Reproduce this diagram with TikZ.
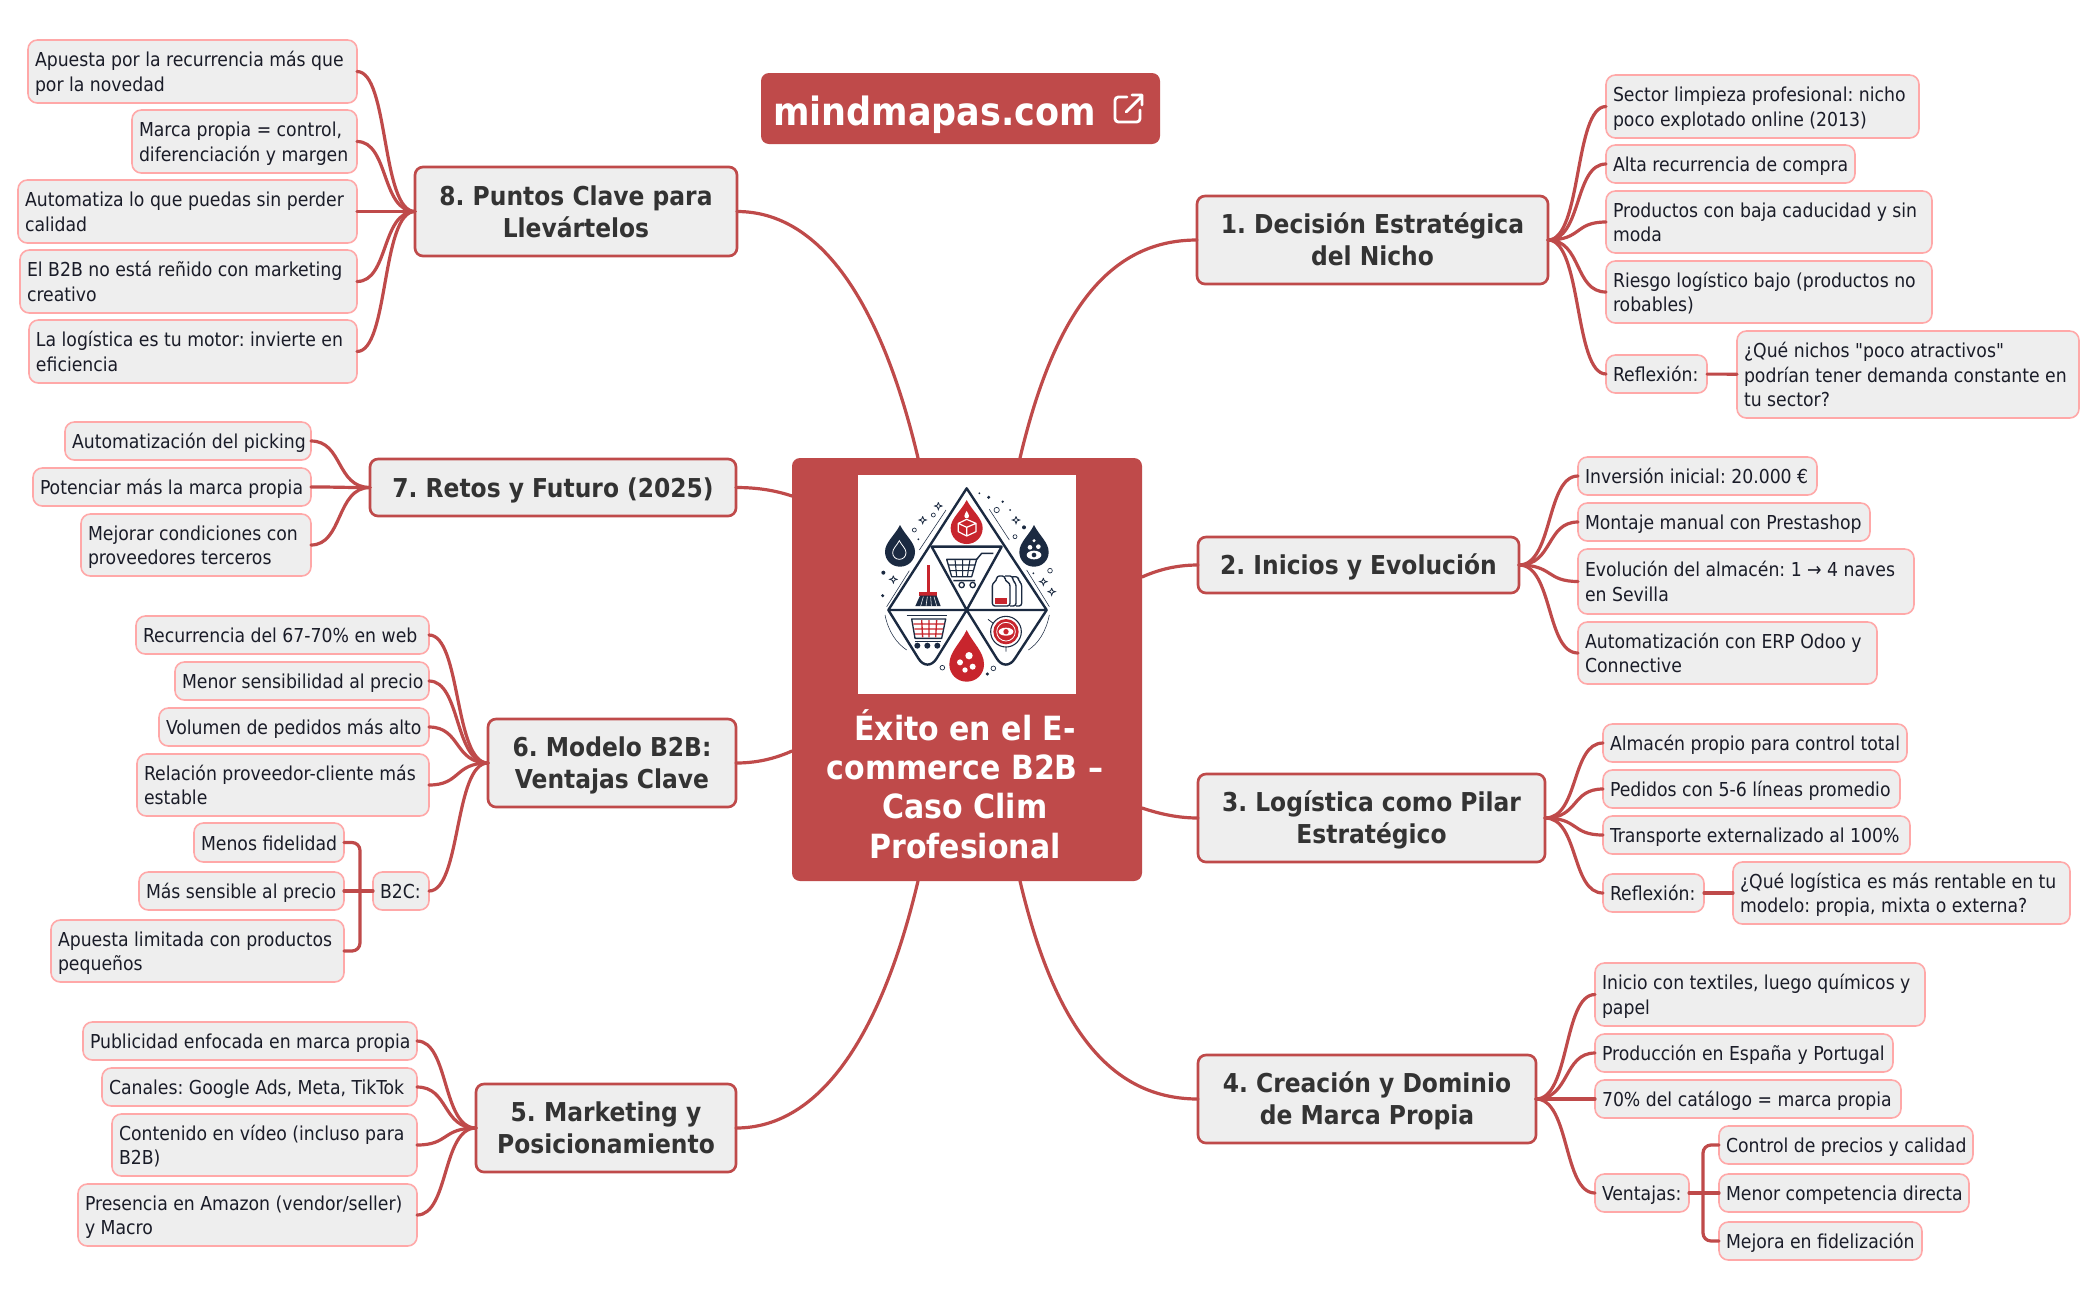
\documentclass[tikz,border=0pt]{standalone}
\usepackage{fontspec}
\newfontfamily\uifont{DejaVu Sans Condensed}
\definecolor{brand}{HTML}{BF4A4A}
\definecolor{lfill}{HTML}{EEEEEE}
\definecolor{lline}{HTML}{FFA8A8}
\definecolor{ltext}{HTML}{1A1C28}
\definecolor{mtext}{HTML}{333333}
\definecolor{navy}{HTML}{1B2A41}
\definecolor{logored}{HTML}{C8252D}
\tikzset{
  leafbox/.style={draw=lline,fill=lfill,line width=1.2pt,rounded corners=7pt,inner sep=0pt,outer sep=0pt,text=ltext,font=\uifont\frenchspacing\fontsize{14.4}{18.3}\selectfont},
  mainbox/.style={draw=brand,fill=lfill,line width=2pt,rounded corners=6pt,inner sep=0pt,outer sep=0pt,text=mtext,font=\uifont\frenchspacing\fontsize{19.5}{24}\selectfont\bfseries},
  conn/.style={draw=brand,line width=2.4pt,line cap=round},
  logoline/.style={draw=navy,line width=1.8pt,line join=round},
  thinline/.style={draw=navy,line width=0.4pt},
}
\newcommand\leafn[6]{%
  \pgfmathsetlengthmacro\mytw{(#4-#2-14)*0.75pt}%
  \pgfmathsetlengthmacro\mymw{(#4-#2)*0.75pt}%
  \pgfmathsetlengthmacro\mymh{(#5-#3)*0.75pt}%
  \node[leafbox,minimum width=\mymw,minimum height=\mymh] (#1) at ({(#2+#4)/2},{(#3+#5)/2}) {\vbox{\kern4pt\hbox to \mytw{\begin{tabular}{@{}l@{}}#6\end{tabular}\hss}}};}
\newcommand\mainn[6]{%
  \pgfmathsetlengthmacro\mymw{(#4-#2)*0.75pt}%
  \pgfmathsetlengthmacro\mymh{(#5-#3)*0.75pt}%
  \node[mainbox,minimum width=\mymw,minimum height=\mymh] (#1) at ({(#2+#4)/2},{(#3+#5)/2}) {\vbox{\kern5pt\hbox{\begin{tabular}{@{}c@{}}#6\end{tabular}}}};}
% connector leaving horizontally on both ends
\newcommand\cR[2]{\draw[conn] (#1.east) .. controls +(34,0) and +(-32,0) .. (#2.west);}
\newcommand\cL[2]{\draw[conn] (#1.west) .. controls +(-34,0) and +(32,0) .. (#2.east);}
% drop: cx, tip y, bottom y, half width
\newcommand\dropshape[4]{%
  (#1,#2) .. controls ({#1+0.35*#4},{#2+0.25*(#3-#2)}) and ({#1+#4},{#2+0.42*(#3-#2)}) .. ({#1+#4},{#3-#4})
  .. controls ({#1+#4},{#3-0.42*#4}) and ({#1+0.55*#4},#3) .. (#1,#3)
  .. controls ({#1-0.55*#4},#3) and ({#1-#4},{#3-0.42*#4}) .. ({#1-#4},{#3-#4})
  .. controls ({#1-#4},{#2+0.42*(#3-#2)}) and ({#1-0.35*#4},{#2+0.25*(#3-#2)}) .. (#1,#2) -- cycle}
\newcommand\sparkle[2]{\draw[thinline,line width=0.6pt] (#1,#2-11) .. controls (#1+2,#2-2) .. (#1+11,#2) .. controls (#1+2,#2+2) .. (#1,#2+11) .. controls (#1-2,#2+2) .. (#1-11,#2) .. controls (#1-2,#2-2) .. (#1,#2-11);}
\begin{document}
\begin{tikzpicture}[x=0.75pt,y=-0.75pt]
\useasboundingbox (0,0) rectangle (2097,1300);
\fill[white] (0,0) rectangle (2097,1300);

% badge
\pgfmathsetlengthmacro\mymw{399*0.75pt}\pgfmathsetlengthmacro\mymh{71*0.75pt}
\node[fill=brand,rounded corners=6pt,minimum width=\mymw,minimum height=\mymh,inner sep=0pt,outer sep=0pt] (badge) at (960.5,108.5) {};
\node[text=white,font=\uifont\fontsize{29.2}{32}\selectfont\bfseries,anchor=base,inner sep=0pt] (badgetext) at (934.5,125) {mindmapas.com};
\draw[white,line width=2.1pt,line cap=round,line join=round,rounded corners=2.5pt] (1127,97) -- (1115,97) -- (1115,122) -- (1140,122) -- (1140,110);
\draw[white,line width=2.1pt,line cap=round,line join=round] (1126,112) -- (1142,96) (1132,95) -- (1142,95) -- (1142,105);

% centre
\pgfmathsetlengthmacro\mymw{350*0.75pt}\pgfmathsetlengthmacro\mymh{423*0.75pt}
\node[fill=brand,rounded corners=6pt,minimum width=\mymw,minimum height=\mymh,inner sep=0pt,outer sep=0pt] (centre) at (967,669.5) {};
\pgfmathsetlengthmacro\mymw{218*0.75pt}\pgfmathsetlengthmacro\mymh{219*0.75pt}
\node[fill=white,minimum width=\mymw,minimum height=\mymh,inner sep=0pt,outer sep=0pt] (logo) at (967,584.5) {};
\node[text=white,font=\uifont\frenchspacing\fontsize{25}{29.6}\selectfont\bfseries,align=center,inner sep=0pt] (title) at (965,784) {Éxito en el E-\\commerce B2B –\\Caso Clim\\Profesional};

% logo artwork
\begin{scope}[shift={(780,450)},x=0.25pt,y=-0.25pt]
  \draw[logoline] (560,115) -- (325,480) -- (800,480) -- cycle;
  \draw[logoline] (455,290) -- (665,290) -- (560,480) -- cycle;
  \draw[logoline] (325,480) -- (415,625) .. controls (430,650) and (455,650) .. (470,625) -- (560,480) -- (650,625) .. controls (665,650) and (690,650) .. (705,625) -- (800,480);
  % drops
  \fill[logored] \dropshape{560}{150}{282}{48};
  \draw[white,line width=0.9pt,line join=round] (535,220) -- (560,208) -- (588,220) -- (588,245) -- (560,258) -- (535,245) -- cycle (535,220) -- (560,232) -- (588,220) (560,232) -- (560,258);
  \fill[white] \dropshape{560}{183}{205}{7};
  \fill[logored] \dropshape{560}{540}{695}{52};
  \fill[white] (567,617) circle[radius=11] (540,637) circle[radius=9] (578,650) circle[radius=9] (555,660) circle[radius=8];
  \fill[navy] \dropshape{360}{225}{350}{45};
  \draw[white,line width=0.6pt] \dropshape{358}{272}{328}{20};
  \fill[navy] \dropshape{762}{225}{350}{44};
  \fill[white] (762,272) circle[radius=5] (775,290) circle[radius=7] (750,292) circle[radius=7];
  \fill[white] (762,315) ellipse[x radius=22,y radius=13];
  \fill[navy] (762,315) circle[radius=7];
  % cart
  \draw[logoline,line width=1pt] (500,328) -- (590,328) -- (575,380) -- (515,380) -- cycle;
  \draw[logoline,line width=0.8pt] (505,345) -- (585,345) (510,362) -- (580,362) (525,328) -- (530,380) (548,328) -- (548,380) (570,328) -- (562,380);
  \draw[logoline,line width=1.1pt] (590,328) -- (605,310) -- (640,310) (520,392) -- (585,392);
  \draw[logoline,line width=1pt] (545,405) circle[radius=8] (578,405) circle[radius=8];
  % broom
  \fill[logored] (440,345) rectangle (450,425);
  \fill[logored] (418,425) rectangle (472,437);
  \fill[navy] (420,437) -- (470,437) -- (482,468) -- (406,468) -- cycle;
  \draw[white,line width=0.4pt] (430,440) -- (422,468) (442,440) -- (438,468) (452,440) -- (454,468) (462,440) -- (470,468);
  % bottles
  \draw[logoline,line width=1pt,rounded corners=2pt] (637,468) -- (637,400) -- (650,392) -- (650,378) -- (675,378) -- (675,392) -- (690,400) -- (690,468) -- cycle;
  \draw[logoline,line width=1pt,rounded corners=2pt] (690,468) -- (708,468) -- (708,400) -- (698,392) -- (698,378) -- (675,378) (708,468) -- (725,468) -- (725,400) -- (715,392) -- (715,380) -- (698,380);
  \fill[logored] (645,443) rectangle (682,462);
  % lower cart
  \draw[logoline,line width=1.1pt] (380,497) -- (500,497);
  \draw[logoline,line width=1pt] (395,507) -- (497,507) -- (485,565) -- (405,565) -- cycle;
  \draw[logored,line width=1pt] (400,522) -- (492,522) (403,537) -- (489,537) (405,552) -- (486,552) (425,510) -- (428,562) (447,510) -- (447,562) (470,510) -- (467,562);
  \draw[logoline,line width=1.1pt] (405,575) -- (482,575);
  \fill[navy] (412,587) circle[radius=9] (442,587) circle[radius=9] (472,587) circle[radius=9];
  % target
  \draw[logoline,line width=0.8pt] (678,545) circle[radius=46];
  \fill[logored] (678,545) circle[radius=38];
  \draw[white,line width=0.6pt] (678,545) circle[radius=28];
  \fill[white] (678,545) ellipse[x radius=22,y radius=12];
  \fill[logored] (678,545) circle[radius=8];
  \draw[logoline,line width=0.6pt] (678,591) -- (678,605) (640,520) -- (624,508);
  % specks
  \sparkle{428}{210}\sparkle{475}{168}\sparkle{340}{388}\sparkle{708}{210}\sparkle{790}{395}\sparkle{815}{425}
  \draw[thinline,line width=0.5pt] (403,240) circle[radius=6] (460,195) circle[radius=6] (650,180) circle[radius=8] (705,260) circle[radius=6] (810,362) circle[radius=7] (487,653) circle[radius=7] (640,655) circle[radius=7];
  \fill[navy] (626,142) circle[radius=5] (732,232) circle[radius=6] (310,368) circle[radius=6] (308,437) circle[radius=5] (622,672) circle[radius=5] (668,155) circle[radius=4] (598,130) circle[radius=3] (415,268) circle[radius=3] (690,180) circle[radius=3] (760,370) circle[radius=3];
  \draw[thinline] (418,300) -- (498,180) (628,178) -- (688,270) (320,470) -- (388,362) (740,360) -- (808,470);
  \draw[thinline] (315,495) .. controls (325,545) and (350,580) .. (380,600) (808,495) .. controls (798,545) and (775,580) .. (745,600);
\end{scope}

% branches
\mainn{m1}{1197}{196}{1548}{284}{1. Decisión Estratégica\\del Nicho}
\mainn{m2}{1198}{537}{1519}{593}{2. Inicios y Evolución}
\mainn{m3}{1198}{774}{1545}{862}{3. Logística como Pilar\\Estratégico}
\mainn{m4}{1198}{1055}{1536}{1143}{4. Creación y Dominio\\de Marca Propia}
\mainn{m5}{476}{1084}{736}{1172}{5. Marketing y\\Posicionamiento}
\mainn{m6}{488}{719}{736}{807}{6. Modelo B2B:\\Ventajas Clave}
\mainn{m7}{370}{459}{736}{516}{7. Retos y Futuro (2025)}
\mainn{m8}{415}{167}{737}{256}{8. Puntos Clave para\\Llevártelos}

% leaves 1
\leafn{a1}{1606}{75}{1919}{138}{Sector limpieza profesional: nicho\\poco explotado online (2013)}
\leafn{a2}{1606}{145}{1855}{183}{Alta recurrencia de compra}
\leafn{a3}{1606}{191}{1932}{253}{Productos con baja caducidad y sin\\moda}
\leafn{a4}{1606}{261}{1932}{323}{Riesgo logístico bajo (productos no\\robables)}
\leafn{a5}{1606}{355}{1707}{393}{Reflexión:}
\leafn{a6}{1737}{331}{2079}{418}{¿Qué nichos "poco atractivos"\\podrían tener demanda constante en\\tu sector?}
% leaves 2
\leafn{b1}{1578}{457}{1817}{495}{Inversión inicial: 20.000 €}
\leafn{b2}{1578}{503}{1870}{541}{Montaje manual con Prestashop}
\leafn{b3}{1578}{549}{1914}{614}{Evolución del almacén: 1 → 4 naves\\en Sevilla}
\leafn{b4}{1578}{622}{1877}{684}{Automatización con ERP Odoo y\\Connective}
% leaves 3
\leafn{c1}{1603}{724}{1907}{762}{Almacén propio para control total}
\leafn{c2}{1603}{770}{1900}{808}{Pedidos con 5-6 líneas promedio}
\leafn{c3}{1603}{816}{1910}{854}{Transporte externalizado al 100\%}
\leafn{c4}{1603}{874}{1704}{912}{Reflexión:}
\leafn{c5}{1733}{862}{2070}{924}{¿Qué logística es más rentable en tu\\modelo: propia, mixta o externa?}
% leaves 4
\leafn{d1}{1595}{963}{1925}{1026}{Inicio con textiles, luego químicos y\\papel}
\leafn{d2}{1595}{1034}{1893}{1072}{Producción en España y Portugal}
\leafn{d3}{1595}{1080}{1901}{1118}{70\% del catálogo = marca propia}
\leafn{d4}{1595}{1174}{1689}{1212}{Ventajas:}
\leafn{d5}{1719}{1126}{1973}{1164}{Control de precios y calidad}
\leafn{d6}{1719}{1174}{1969}{1212}{Menor competencia directa}
\leafn{d7}{1719}{1222}{1922}{1260}{Mejora en fidelización}
% leaves 5
\leafn{e1}{83}{1022}{417}{1060}{Publicidad enfocada en marca propia}
\leafn{e2}{102}{1068}{417}{1106}{Canales: Google Ads, Meta, TikTok}
\leafn{e3}{112}{1114}{417}{1176}{Contenido en vídeo (incluso para\\B2B)}
\leafn{e4}{78}{1184}{417}{1246}{Presencia en Amazon (vendor/seller)\\y Macro}
% leaves 6
\leafn{f1}{136}{616}{429}{654}{Recurrencia del 67-70\% en web}
\leafn{f2}{175}{662}{429}{700}{Menor sensibilidad al precio}
\leafn{f3}{159}{708}{429}{746}{Volumen de pedidos más alto}
\leafn{f4}{137}{754}{429}{816}{Relación proveedor-cliente más\\estable}
\leafn{f5}{373}{872}{429}{910}{B2C:}
\leafn{f6}{194}{823}{344}{862}{Menos fidelidad}
\leafn{f7}{139}{872}{344}{910}{Más sensible al precio}
\leafn{f8}{51}{920}{344}{982}{Apuesta limitada con productos\\pequeños}
% leaves 7
\leafn{g1}{65}{422}{311}{460}{Automatización del picking}
\leafn{g2}{33}{468}{311}{506}{Potenciar más la marca propia}
\leafn{g3}{81}{514}{311}{576}{Mejorar condiciones con\\proveedores terceros}
% leaves 8
\leafn{h1}{28}{40}{357}{103}{Apuesta por la recurrencia más que\\por la novedad}
\leafn{h2}{132}{110}{357}{173}{Marca propia = control,\\diferenciación y margen}
\leafn{h3}{18}{180}{357}{243}{Automatiza lo que puedas sin perder\\calidad}
\leafn{h4}{20}{250}{357}{313}{El B2B no está reñido con marketing\\creativo}
\leafn{h5}{29}{320}{357}{383}{La logística es tu motor: invierte en\\eficiencia}

% centre exits
\coordinate (x1) at (1020,458);
\coordinate (x2) at (1142,577);
\coordinate (x3) at (1142,808);
\coordinate (x4) at (1020,881);
\coordinate (x5) at (918,881);
\coordinate (x6) at (792,751);
\coordinate (x7) at (792,496);
\coordinate (x8) at (918,458);
\draw[conn] (x1) .. controls +(35,-148) and +(-87,0) .. (m1.west);
\draw[conn] (x2) .. controls +(18,-8) and +(-20,0) .. (m2.west);
\draw[conn] (x3) .. controls +(18,6) and +(-20,0) .. (m3.west);
\draw[conn] (x4) .. controls +(35,148) and +(-87,0) .. (m4.west);
\draw[conn] (x5) .. controls +(-35,148) and +(87,0) .. (m5.east);
\draw[conn] (x6) .. controls +(-18,8) and +(20,0) .. (m6.east);
\draw[conn] (x7) .. controls +(-18,-6) and +(20,0) .. (m7.east);
\draw[conn] (x8) .. controls +(-35,-148) and +(87,0) .. (m8.east);

% branch to leaf
\foreach \l in {a1,a2,a3,a4,a5}{\cR{m1}{\l}}
\foreach \l in {b1,b2,b3,b4}{\cR{m2}{\l}}
\foreach \l in {c1,c2,c3,c4}{\cR{m3}{\l}}
\foreach \l in {d1,d2,d3,d4}{\cR{m4}{\l}}
\foreach \l in {e1,e2,e3,e4}{\cL{m5}{\l}}
\foreach \l in {f1,f2,f3,f4,f5}{\cL{m6}{\l}}
\foreach \l in {g1,g2,g3}{\cL{m7}{\l}}
\foreach \l in {h1,h2,h3,h4,h5}{\cL{m8}{\l}}
\draw[conn] (a5) -- (a6);
\draw[conn] (c4) -- (c5);

% brackets
\coordinate (tv) at (1703,1193);
\coordinate (tb) at (360,891);
\draw[conn] (d4) -- (d6);
\draw[conn,rounded corners=6pt] (d5.west) -| (tv) |- (d7.west);
\draw[conn] (f5) -- (f7);
\draw[conn,rounded corners=6pt] (f6.east) -| (tb) |- (f8.east);
\end{tikzpicture}
\end{document}
